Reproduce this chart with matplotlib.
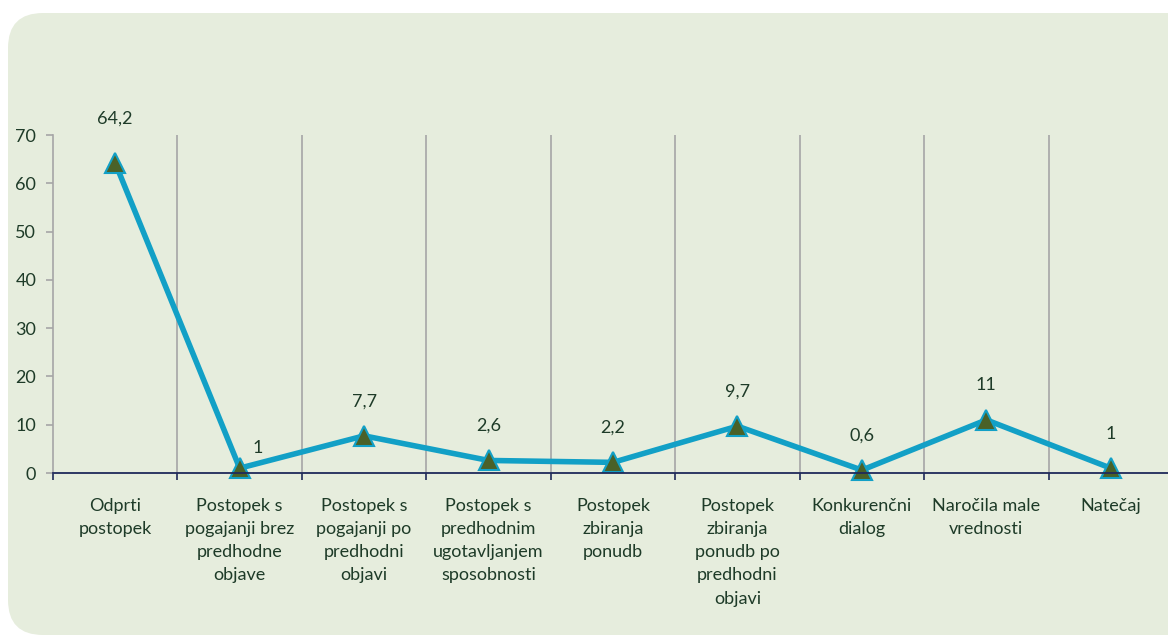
import matplotlib.pyplot as plt
from matplotlib.patches import FancyBboxPatch

categories = [
    "Odprti\npostopek",
    "Postopek s\npogajanji brez\npredhodne\nobjave",
    "Postopek s\npogajanji po\npredhodni\nobjavi",
    "Postopek s\npredhodnim\nugotavljanjem\nsposobnosti",
    "Postopek\nzbiranja\nponudb",
    "Postopek\nzbiranja\nponudb po\npredhodni\nobjavi",
    "Konkurenčni\ndialog",
    "Naročila male\nvrednosti",
    "Natečaj",
]
values = [64.2, 1, 7.7, 2.6, 2.2, 9.7, 0.6, 11, 1]
value_labels = ["64,2", "1", "7,7", "2,6", "2,2", "9,7", "0,6", "11", "1"]
y_ticks = [0, 10, 20, 30, 40, 50, 60, 70]

plt.rcParams['font.family'] = ['Lato', 'DejaVu Sans']
text_color = '#1E3B28'
line_color = '#12A0C6'
marker_color = '#4A6128'
bg_color = '#E6EDDD'
fs = 13

fig = plt.figure(figsize=(11.68, 6.41), dpi=100)

# rounded green panel behind the chart
panel = FancyBboxPatch((8 / 1168, 6 / 641), 1.2, 622 / 641,
                       boxstyle="round,pad=0,rounding_size=0.03",
                       transform=fig.transFigure, facecolor=bg_color,
                       edgecolor='none', mutation_aspect=1168 / 641,
                       zorder=-5)
fig.patches.append(panel)

ax = fig.add_axes([53 / 1168, 168 / 641, 1120 / 1168, 338 / 641])
ax.set_facecolor('none')

x = list(range(len(values)))
ax.plot(x, values, color=line_color, lw=4, marker='^', ms=14,
        mfc=marker_color, mec=line_color, mew=1.5, zorder=3, clip_on=False)

# data labels
offsets = [(0, 19)] * len(values)
offsets[0] = (0, 26)
offsets[1] = (13, 9)
for i, (v, lab) in enumerate(zip(values, value_labels)):
    ax.annotate(lab, (i, v), xytext=offsets[i], textcoords='offset points',
                ha='center', va='bottom', fontsize=fs, color=text_color)

ax.set_xlim(-0.5, len(values) - 0.5)
ax.set_ylim(0, 70)
ax.set_yticks(y_ticks)
ax.tick_params(axis='y', colors='#A6A6A6', length=5, width=1.2,
               labelcolor=text_color, labelsize=fs, pad=7)

# boundary ticks on x-axis, labels at category centers
ax.set_xticks([i - 0.5 for i in range(len(values) + 1)])
ax.set_xticklabels([])
ax.tick_params(axis='x', colors='#1F2A5A', length=5, width=1.2)
for i, cat in enumerate(categories):
    ax.text(i, -5.1, cat, ha='center', va='top', fontsize=fs,
            color=text_color, linespacing=1.56)

for b in range(1, len(values)):
    ax.axvline(b - 0.5, color='#A6A6A6', lw=1.2, zorder=1)

for side in ['top', 'right']:
    ax.spines[side].set_visible(False)
ax.spines['left'].set_color('#A6A6A6')
ax.spines['left'].set_linewidth(1.2)
ax.spines['bottom'].set_color('#1F2A5A')
ax.spines['bottom'].set_linewidth(1.3)
ax.spines['bottom'].set_zorder(4)

fig.savefig('out.png', dpi=100)
